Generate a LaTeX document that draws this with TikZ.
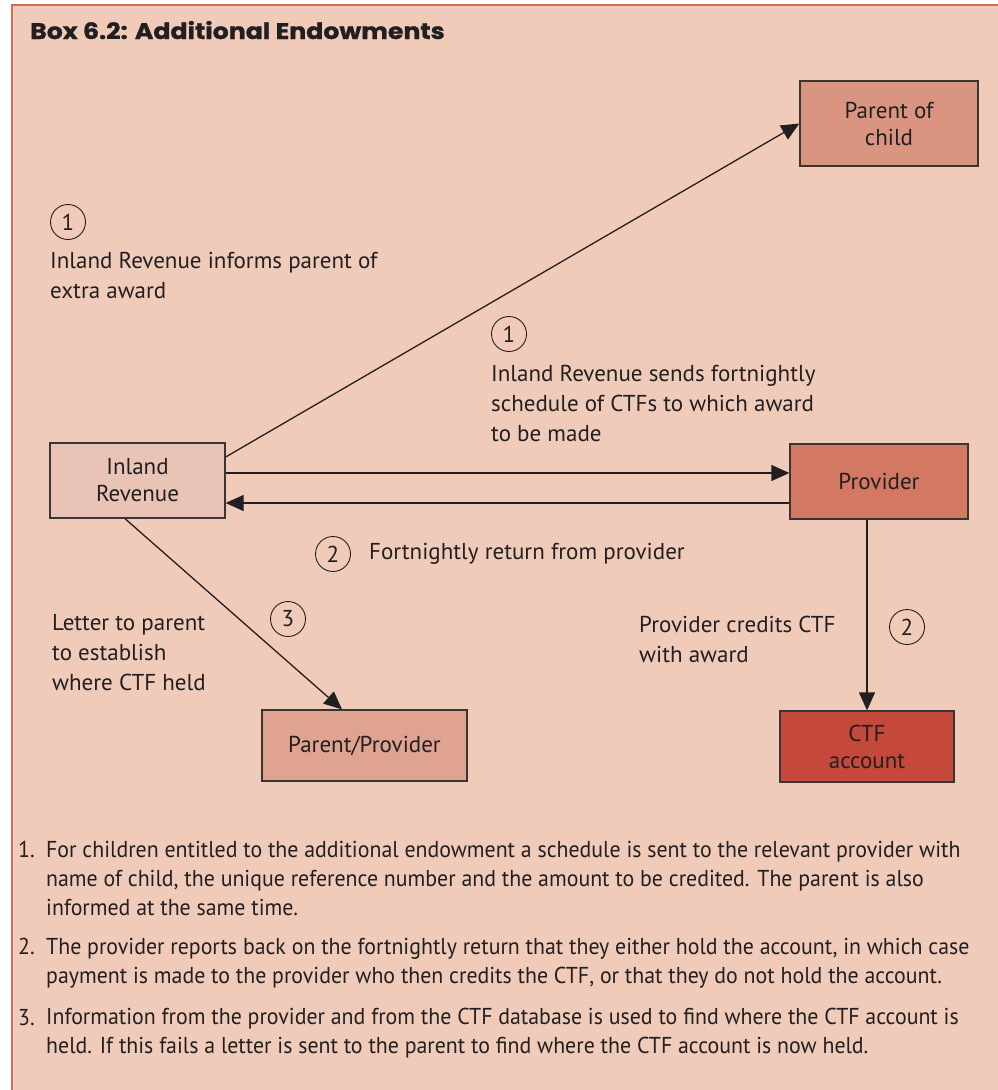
\documentclass[tikz,border=0pt]{standalone}
\usepackage{fontspec}
\setmainfont{PT Sans}
\newfontfamily\notefont[FakeStretch=0.95]{PT Sans}
\newfontfamily\titlefont[FakeStretch=1.12,FakeBold=1.2]{Poppins}
\usetikzlibrary{arrows.meta}

\definecolor{boxbg}{HTML}{F0CBB9}
\definecolor{boxrule}{HTML}{D9695A}
\definecolor{ink}{HTML}{231F20}
\definecolor{boxline}{HTML}{3A3535}
\definecolor{irfill}{HTML}{E9C3B5}
\definecolor{pcfill}{HTML}{DA9580}
\definecolor{prfill}{HTML}{D37862}
\definecolor{ppfill}{HTML}{E0A390}
\definecolor{ctffill}{HTML}{C5493A}

\begin{document}
\begin{tikzpicture}[x=1pt,y=-1pt]
	\tikzset{
		stage/.style={draw=boxline, line width=1.3pt, inner sep=0pt, align=center, text=ink, font=\fontsize{23}{27}\selectfont},
		numcirc/.style={circle, draw=ink, line width=0.9pt, minimum size=35pt, inner sep=0pt, text=ink, font=\fontsize{23}{23}\selectfont},
		lbl/.style={anchor=base west, align=left, inner sep=0pt, text=ink, font=\fontsize{23}{30}\selectfont},
		note/.style={anchor=base west, align=left, inner sep=0pt, text=ink, font=\notefont\fontsize{23}{29}\selectfont},
		flow/.style={-{Triangle[length=18pt,width=16pt]}, line width=1.3pt, draw=ink}
	}
	\useasboundingbox (0,0) rectangle (998,1090);

	%---FRAME---
	\draw[fill=boxbg, draw=boxrule, line width=1.5pt] (12,5) rectangle (1010,1100);
	\node[anchor=base west, inner sep=0pt, text=ink, font=\titlefont\bfseries\fontsize{22.5}{24}\selectfont] (title) at (30,39) {Box 6.2: Additional Endowments};

	%---NODES---
	\node[stage, fill=pcfill, minimum width=178pt, minimum height=85pt] (pc) at (889,123.5) {Parent of\\child};
	\node[stage, fill=irfill, minimum width=175pt, minimum height=75pt] (ir) at (137.5,480.5) {Inland\\Revenue};
	\node[stage, fill=prfill, minimum width=178pt, minimum height=75pt] (pr) at (879,481.5) {Provider};
	\node[stage, fill=ppfill, minimum width=205pt, minimum height=71pt] (pp) at (364.5,745.5) {Parent/Provider};
	\node[stage, fill=ctffill, minimum width=174pt, minimum height=71pt] (ctf) at (867,746.5) {CTF\\account};

	%---EDGES---
	\draw[flow] ([yshift=23.5pt]ir.east) -- (pc.west);
	\draw[flow] ([yshift=7.5pt]ir.east) -- ([yshift=7.5pt]ir.east -| pr.west);
	\draw[flow] ([yshift=-21.5pt]pr.west) -- ([yshift=-21.5pt]pr.west -| ir.east);
	\draw[flow] ([xshift=-12.5pt]ir.south) -- ([xshift=-22.5pt]pp.north);
	\draw[flow] (pr.south -| ctf.north) -- (ctf.north);

	%---LABELS--- (base anchor sits on the last line)
	\node[numcirc] (c1a) at (68,222) {1};
	\node[lbl] (l1a) at (50,298) {Inland Revenue informs parent of\\extra award};
	\node[numcirc] (c1b) at (509,334) {1};
	\node[lbl] (l1b) at (491,441) {Inland Revenue sends fortnightly\\schedule of CTFs to which award\\to be made};
	\node[numcirc] (c2a) at (333,554) {2};
	\node[lbl] (l2a) at (369,559) {Fortnightly return from provider};
	\node[lbl] (l3) at (52,690) {Letter to parent\\to establish\\where CTF held};
	\node[numcirc] (c3) at (288,619) {3};
	\node[lbl] (l2b) at (639,662) {Provider credits CTF\\with award};
	\node[numcirc] (c2b) at (907,627) {2};

	%---NOTES---
	\node[note] (num1) at (18,857) {1.};
	\node[note] (note1) at (46,915) {For children entitled to the additional endowment a schedule is sent to the relevant provider with\\name of child, the unique reference number and the amount to be credited. The parent is also\\informed at the same time.};
	\node[note] (num2) at (18,954) {2.};
	\node[note] (note2) at (46,983) {The provider reports back on the fortnightly return that they either hold the account, in which case\\payment is made to the provider who then credits the CTF, or that they do not hold the account.};
	\node[note] (num3) at (18,1025) {3.};
	\node[note] (note3) at (46,1053) {Information from the provider and from the CTF database is used to find where the CTF account is\\held. If this fails a letter is sent to the parent to find where the CTF account is now held.};
\end{tikzpicture}
\end{document}
